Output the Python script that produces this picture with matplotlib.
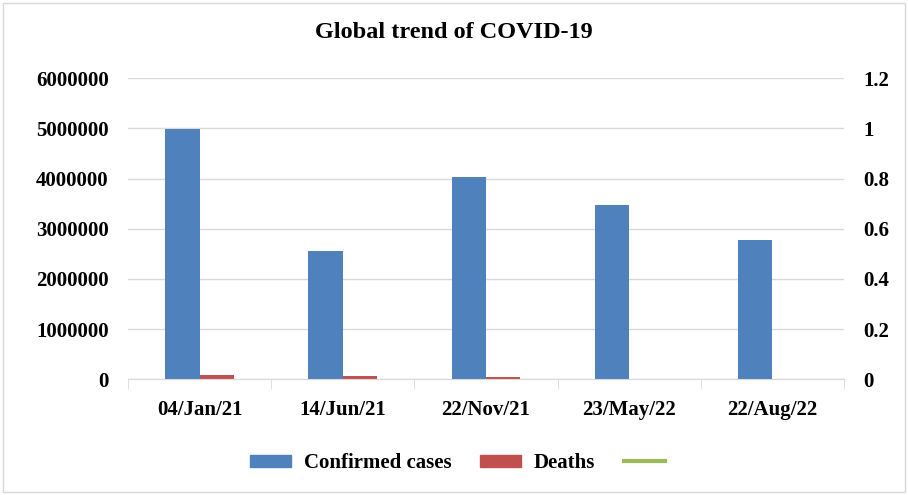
import matplotlib.pyplot as plt
from matplotlib.patches import Rectangle
from matplotlib.lines import Line2D
import numpy as np

dates = ['04/Jan/21', '14/Jun/21', '22/Nov/21', '23/May/22', '22/Aug/22']
confirmed = [4995000, 2563000, 4040000, 3480000, 2780000]
deaths = [87000, 67000, 47000, 0, 0]

plt.rcParams['font.family'] = 'Liberation Serif'
plt.rcParams['font.weight'] = 'bold'

fig = plt.figure(figsize=(9.08, 4.95), dpi=100)
ax = fig.add_axes([128 / 908, 1 - 379.3 / 495, (844 - 128) / 908, (379.3 - 78.3) / 495])
ax2 = ax.twinx()

x = np.arange(len(dates))
width = 0.24
ax.bar(x - width / 2, confirmed, width, color='#4F81BD', zorder=3)
ax.bar(x + width / 2, deaths, width, color='#C0504D', zorder=3)
ax2.plot([], [], color='#9BBB59', linewidth=3)

ax.set_xlim(-0.5, 4.5)
ax.set_ylim(0, 6000000)
ax.set_yticks(np.arange(0, 6000001, 1000000))
ax.set_yticklabels([str(v) for v in range(0, 6000001, 1000000)])
ax2.set_ylim(0, 1.2)
ax2.set_yticks([0, 0.2, 0.4, 0.6, 0.8, 1.0, 1.2])
ax2.set_yticklabels(['0', '0.2', '0.4', '0.6', '0.8', '1', '1.2'])

ax.grid(axis='y', color='#d9d9d9', linewidth=1, zorder=0)
for a in (ax, ax2):
    for s in ['top', 'left', 'right']:
        a.spines[s].set_visible(False)
    a.spines['bottom'].set_color('#d9d9d9')
    a.tick_params(axis='y', length=0, labelsize=15, pad=14)

ax.set_xticks(x)
ax.set_xticklabels(dates, fontsize=15)
ax.set_xticks(np.arange(-0.5, 5, 1), minor=True)
ax.tick_params(axis='x', which='major', length=0, pad=15)
ax.tick_params(axis='x', which='minor', length=7, color='#d9d9d9')

fig.text(0.5, 1 - 33 / 495, 'Global trend of COVID-19', ha='center', va='center',
         fontsize=17.5, fontweight='bold')

handles = [Rectangle((0, 0), 1, 1, color='#4F81BD'),
           Rectangle((0, 0), 1, 1, color='#C0504D'),
           Line2D([], [], color='#9BBB59', linewidth=3)]
fig.legend(handles, ['Confirmed cases', 'Deaths', ''], loc='center',
           bbox_to_anchor=(0.5 + 10 / 908, 1 - 463 / 495), ncol=3, frameon=False,
           fontsize=15, handlelength=1.95, handleheight=0.5, columnspacing=1.4,
           handletextpad=0.62)

fig.patches.append(Rectangle((3 / 908, 3 / 495), 902 / 908, 489 / 495, transform=fig.transFigure,
                             fill=False, edgecolor='#d9d9d9', linewidth=1))

fig.savefig('out.png', dpi=100)
